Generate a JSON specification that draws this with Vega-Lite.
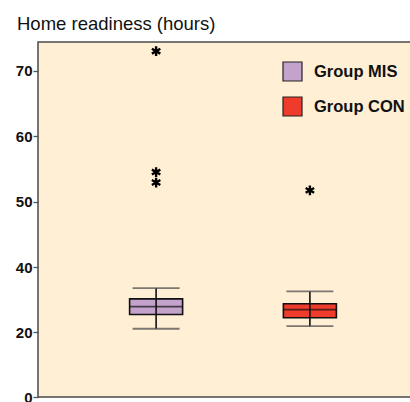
{
  "$schema": "https://vega.github.io/schema/vega-lite/v6.json",
  "autosize": "none",
  "width": 390,
  "height": 355,
  "padding": {"left": 38, "top": 42, "right": 0, "bottom": 5},
  "background": "white",
  "title": {
    "text": "Home readiness (hours)",
    "anchor": "start",
    "frame": "group",
    "dx": -21,
    "dy": 22,
    "offset": 15,
    "baseline": "alphabetic",
    "font": "Liberation Sans",
    "fontSize": 18.5,
    "fontWeight": "normal",
    "color": "#111"
  },
  "config": {
    "view": {"fill": "#FFEFD5", "stroke": "#4a4a4a", "strokeWidth": 1.5},
    "font": "Liberation Sans"
  },
  "datasets": {
    "box": [
      {"group": "Group MIS", "lo": 21.0, "q1": 25.4, "med": 27.8, "q3": 30.2, "hi": 33.5},
      {"group": "Group CON", "lo": 21.8, "q1": 24.4, "med": 26.9, "q3": 28.7, "hi": 32.5}
    ],
    "outliers": [
      {"group": "Group MIS", "v": 73.0},
      {"group": "Group MIS", "v": 54.5},
      {"group": "Group MIS", "v": 52.9},
      {"group": "Group CON", "v": 51.7}
    ]
  },
  "encoding": {
    "x": {
      "field": "group",
      "type": "nominal",
      "scale": {"type": "point", "domain": ["Group MIS", "Group CON"], "padding": 0.768},
      "axis": null
    }
  },
  "layer": [
    {
      "data": {"name": "box"},
      "mark": {"type": "bar", "size": 53, "stroke": "#111", "strokeWidth": 1.6},
      "encoding": {
        "y": {
          "field": "q1",
          "type": "quantitative",
          "scale": {
            "domain": [0, 20, 40, 50, 60, 70, 74.4],
            "range": [355, 290, 225, 159.5, 94, 28.8, 0],
            "nice": false,
            "zero": false
          },
          "axis": {
            "values": [0, 20, 40, 50, 60, 70],
            "title": null,
            "grid": false,
            "domain": false,
            "tickSize": 5,
            "tickWidth": 1.3,
            "tickColor": "#555",
            "labelPadding": 1,
            "labelFont": "Liberation Sans",
            "labelFontSize": 15,
            "labelFontWeight": "bold",
            "labelColor": "#111"
          }
        },
        "y2": {"field": "q3"},
        "color": {
          "field": "group",
          "type": "nominal",
          "scale": {"domain": ["Group MIS", "Group CON"], "range": ["#C3A2CC", "#EE3B2C"]},
          "legend": {
            "title": null,
            "orient": "none",
            "legendX": 244,
            "legendY": 19,
            "padding": 0,
            "symbolType": "square",
            "symbolSize": 361,
            "symbolStrokeColor": "#222",
            "symbolStrokeWidth": 1.2,
            "symbolOpacity": 1,
            "rowPadding": 10,
            "labelOffset": 11,
            "labelFont": "Liberation Sans",
            "labelFontSize": 16.5,
            "labelFontWeight": "bold",
            "labelColor": "#111"
          }
        }
      }
    },
    {
      "data": {"name": "box"},
      "mark": {"type": "rule", "color": "#111", "strokeWidth": 1.6},
      "encoding": {
        "y": {"field": "lo", "type": "quantitative"},
        "y2": {"field": "hi"}
      }
    },
    {
      "data": {"name": "box"},
      "mark": {"type": "tick", "color": "#111", "size": 53, "thickness": 1.8},
      "encoding": {"y": {"field": "med", "type": "quantitative"}}
    },
    {
      "data": {"name": "box"},
      "mark": {"type": "tick", "color": "#444", "size": 47, "thickness": 1.8},
      "encoding": {"y": {"field": "lo", "type": "quantitative"}}
    },
    {
      "data": {"name": "box"},
      "mark": {"type": "tick", "color": "#444", "size": 47, "thickness": 1.8},
      "encoding": {"y": {"field": "hi", "type": "quantitative"}}
    },
    {
      "data": {"name": "outliers"},
      "mark": {
        "type": "point",
        "shape": "M0,-1L0,1M-0.87,-0.5L0.87,0.5M-0.87,0.5L0.87,-0.5",
        "filled": false,
        "stroke": "#000",
        "strokeWidth": 2.4,
        "size": 95,
        "opacity": 1
      },
      "encoding": {"y": {"field": "v", "type": "quantitative"}}
    }
  ]
}
